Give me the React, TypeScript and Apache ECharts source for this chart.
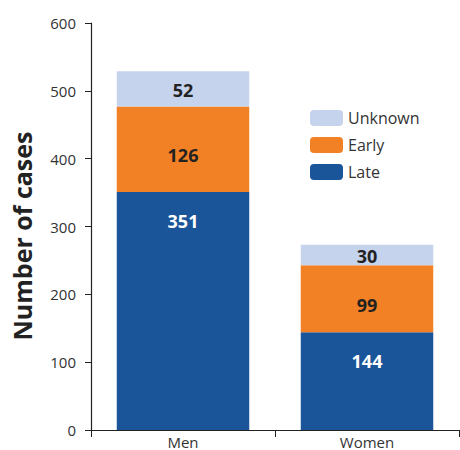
import React, { useEffect, useRef } from "react";
import * as echarts from "echarts";

const categories = ["Men", "Women"];
const late = [351, 144];
const early = [126, 99];
const unknown = [52, 30];
const yTicks = { min: 0, max: 600, interval: 100 };
const yTitle = "Number of cases";

const FONT = "Open Sans";

export default function App() {
  const ref = useRef<HTMLDivElement>(null);
  useEffect(() => {
    const chart = echarts.init(ref.current!, null, { renderer: "svg" });
    const labelBase = {
      show: true,
      fontFamily: FONT,
      fontWeight: "bold" as const,
      fontSize: 18,
    };
    chart.setOption({
      animation: false,
      grid: { left: 91, right: 1, top: 23, bottom: 20, containLabel: false },
      graphic: [
        {
          type: "text",
          x: 22,
          y: 236,
          rotation: Math.PI / 2,
          style: {
            text: yTitle,
            fontFamily: FONT,
            fontSize: 25,
            fontWeight: "bold",
            fill: "#222",
            align: "center",
            verticalAlign: "middle",
          },
        },
      ],
      legend: {
        orient: "vertical",
        left: 310,
        top: 110,
        itemWidth: 33,
        itemHeight: 16,
        itemGap: 11,
        data: ["Unknown", "Early", "Late"],
        textStyle: { fontFamily: FONT, fontSize: 16, color: "#333", padding: [0, 0, 0, 0] },
        padding: 0,
      },
      xAxis: {
        type: "category",
        data: categories,
        axisLine: { lineStyle: { color: "#222", width: 1.2 } },
        axisTick: { show: true, length: 7, lineStyle: { color: "#222" } },
        axisLabel: { fontFamily: FONT, fontSize: 15, color: "#333", margin: 4 },
      },
      yAxis: {
        type: "value",
        min: yTicks.min,
        max: yTicks.max,
        interval: yTicks.interval,
        axisLine: { show: true, lineStyle: { color: "#222", width: 1.2 } },
        axisTick: { show: true, length: 6, lineStyle: { color: "#222" } },
        splitLine: { show: false },
        axisLabel: { fontFamily: FONT, fontSize: 15, color: "#333", margin: 15 },
      },
      series: [
        {
          name: "Late",
          type: "bar",
          stack: "a",
          data: late,
          barWidth: "72%",
          itemStyle: { color: "#1a5499" },
          label: { ...labelBase, color: "#fff", position: "insideTop", distance: 20 },
        },
        {
          name: "Early",
          type: "bar",
          stack: "a",
          data: early,
          itemStyle: { color: "#f28024" },
          label: { ...labelBase, color: "#222", position: "inside", offset: [0, 6] },
        },
        {
          name: "Unknown",
          type: "bar",
          stack: "a",
          data: unknown,
          itemStyle: { color: "#c5d3ec" },
          label: { ...labelBase, color: "#222", position: "inside", offset: [0, 1] },
        },
      ],
    });
    return () => chart.dispose();
  }, []);
  return (
    <div
      ref={ref}
      style={{ position: "fixed", left: 0, top: 0, width: 460, height: 450, background: "#fff" }}
    />
  );
}
